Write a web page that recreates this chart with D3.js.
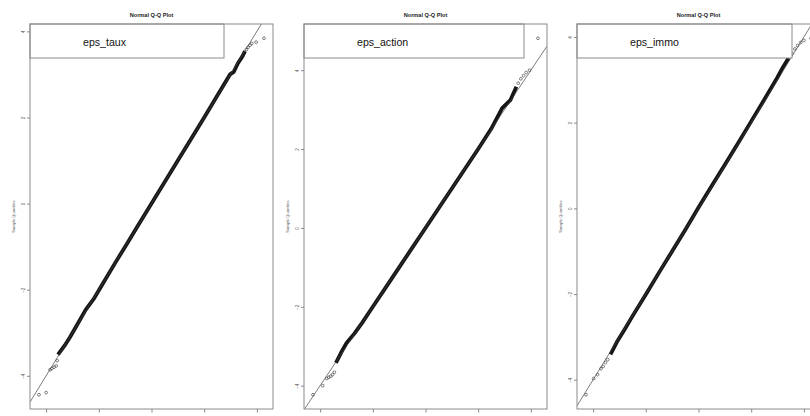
<!DOCTYPE html>
<html><head><meta charset="utf-8">
<script src="https://cdn.jsdelivr.net/npm/d3@7"></script>
<style>body{margin:0;background:#fff} svg{display:block}</style>
</head><body><svg id="c" width="810" height="416"></svg>
<script>
const seriesNames = ["eps_taux", "eps_action", "eps_immo"];
const xTickValues = [-4, -2, 0, 2, 4];
const yTickValues = [-4, -2, 0, 2, 4];
const chartTitle = "Normal Q-Q Plot";
const yAxisTitle = "Sample Quantiles";

// eps_taux : dense body of the Q-Q cloud and isolated tail points
const tauxBulkTheo   = [-3.55,-3.30,-3.09,-2.80,-2.50,-2.20,-1.80,-1.40,-1.00,-0.50,0.00,0.50,1.00,1.50,2.00,2.50,2.98,3.12,3.28,3.45,3.55];
const tauxBulkSample = [-3.51,-3.30,-3.10,-2.79,-2.47,-2.22,-1.81,-1.40,-1.00,-0.50,0.00,0.50,1.00,1.50,2.00,2.51,3.00,3.06,3.26,3.42,3.54];
const tauxTailTheo   = [-4.27,-4.00,-3.85,-3.78,-3.70,-3.62,-3.58,3.60,3.66,3.74,3.81,3.97,4.27];
const tauxTailSample = [-4.44,-4.39,-3.86,-3.83,-3.80,-3.77,-3.65,3.58,3.63,3.68,3.72,3.75,3.84];

// eps_action
const actionBulkTheo   = [-3.40,-3.20,-2.99,-2.70,-2.40,-2.00,-1.50,-1.00,-0.50,0.00,0.50,1.00,1.50,2.00,2.50,2.91,3.22,3.45];
const actionBulkSample = [-3.42,-3.16,-2.91,-2.68,-2.40,-2.00,-1.50,-1.00,-0.50,0.00,0.50,1.00,1.50,2.00,2.52,3.04,3.24,3.58];
const actionTailTheo   = [-4.27,-3.90,-3.75,-3.67,-3.60,-3.53,-3.46,3.52,3.62,3.72,3.82,3.95,4.27];
const actionTailSample = [-4.23,-4.00,-3.82,-3.79,-3.76,-3.72,-3.66,3.67,3.78,3.86,3.94,4.00,4.81];

// eps_immo
const immoBulkTheo   = [-3.34,-3.10,-2.80,-2.50,-2.00,-1.50,-1.00,-0.50,0.00,0.50,1.00,1.50,2.00,2.50,3.00,3.20,3.42];
const immoBulkSample = [-3.41,-3.12,-2.82,-2.51,-2.01,-1.50,-1.00,-0.50,0.02,0.52,1.02,1.52,2.03,2.54,3.06,3.29,3.51];
const immoTailTheo   = [-4.27,-3.98,-3.83,-3.70,-3.62,-3.53,-3.45,3.55,3.66,3.76,3.88,4.00,4.27];
const immoTailSample = [-4.35,-3.97,-3.88,-3.74,-3.69,-3.60,-3.53,3.62,3.72,3.80,3.87,3.92,3.97];

const panelsData = [
  {bt: tauxBulkTheo, bs: tauxBulkSample, tt: tauxTailTheo, ts: tauxTailSample},
  {bt: actionBulkTheo, bs: actionBulkSample, tt: actionTailTheo, ts: actionTailSample},
  {bt: immoBulkTheo, bs: immoBulkSample, tt: immoTailTheo, ts: immoTailSample}
];

// layout
const panelLefts = [30, 304, 577];
const panelW = 243, plotTop = 24, plotBottom = 409;
const legendW = [194, 220, 215], legendH = 34;

const svg = d3.select("#c");
svg.append("rect").attr("width", 810).attr("height", 416).attr("fill", "#fff");
const font = "'Liberation Sans', Arial, Helvetica, sans-serif";
const frameCol = "#8a8a8a";

function ext(arr) { // R-style 4% extension
  const [a, b] = d3.extent(arr);
  const d = (b - a) * 0.04;
  return [a - d, b + d];
}

panelsData.forEach((p, i) => {
  const L = panelLefts[i];
  const x = d3.scaleLinear().domain(ext(p.tt.concat(p.bt))).range([L, L + panelW]);
  const y = d3.scaleLinear().domain(ext(p.ts.concat(p.bs))).range([plotBottom, plotTop]);
  const g = svg.append("g");
  const clipId = "clip" + i;
  svg.append("clipPath").attr("id", clipId).append("rect")
    .attr("x", L).attr("y", plotTop).attr("width", panelW).attr("height", plotBottom - plotTop);
  const inner = g.append("g").attr("clip-path", `url(#${clipId})`);

  // dense body
  const pts = p.bt.map((t, k) => [t, p.bs[k]]);
  inner.append("path").datum(pts)
    .attr("d", d3.line().x(d => x(d[0])).y(d => y(d[1])))
    .attr("fill", "none").attr("stroke", "#151515").attr("stroke-width", 3.8)
    .attr("stroke-linecap", "butt").attr("stroke-linejoin", "round");
  // tail points
  const tails = p.tt.map((t, k) => [t, p.ts[k]]);
  inner.selectAll("circle.t").data(tails).join("circle")
    .attr("cx", d => x(d[0])).attr("cy", d => y(d[1])).attr("r", 1.4)
    .attr("fill", "none").attr("stroke", "#333").attr("stroke-width", 0.6);
  // qqline (y = x)
  const xd = x.domain();
  inner.append("line")
    .attr("x1", x(xd[0])).attr("y1", y(xd[0]))
    .attr("x2", x(xd[1])).attr("y2", y(xd[1]))
    .attr("stroke", "#444").attr("stroke-width", 0.7);

  // legend box
  g.append("rect").attr("x", L).attr("y", plotTop).attr("width", legendW[i]).attr("height", legendH)
    .attr("fill", "#fff").attr("stroke", frameCol).attr("stroke-width", 1);
  g.append("text").attr("x", L + 53).attr("y", plotTop + 22)
    .attr("font-family", font).attr("font-size", 10.6).attr("fill", "#111")
    .text(seriesNames[i]);

  // frame
  g.append("rect").attr("x", L).attr("y", plotTop).attr("width", panelW).attr("height", plotBottom - plotTop)
    .attr("fill", "none").attr("stroke", frameCol).attr("stroke-width", 1);

  // y axis
  const ya = g.append("g").attr("transform", `translate(${L},0)`)
    .call(d3.axisLeft(y).tickValues(yTickValues).tickSize(3).tickFormat(d3.format("d")));
  ya.select(".domain").remove();
  ya.selectAll("line").attr("stroke", frameCol);
  ya.selectAll("text").attr("transform", "rotate(-90)").attr("x", 0).attr("y", -5.5).attr("dy", 0)
    .attr("text-anchor", "middle").attr("font-size", 4.5).attr("font-family", font).attr("fill", "#555");

  // x axis (labels fall below the visible area)
  const xa = g.append("g").attr("transform", `translate(0,${plotBottom})`)
    .call(d3.axisBottom(x).tickValues(xTickValues).tickSize(3.5).tickFormat(""));
  xa.select(".domain").remove();
  xa.selectAll("line").attr("stroke", frameCol);

  // titles
  g.append("text").attr("x", L + panelW / 2).attr("y", 16.5).attr("text-anchor", "middle")
    .attr("font-family", font).attr("font-weight", "bold").attr("font-size", 5.6).attr("fill", "#222")
    .text(chartTitle);
  g.append("text").attr("transform", `translate(${L - 15},${(plotTop + plotBottom) / 2}) rotate(-90)`)
    .attr("text-anchor", "middle").attr("font-family", font).attr("font-size", 4.1).attr("fill", "#555")
    .text(yAxisTitle);
});
</script></body></html>
